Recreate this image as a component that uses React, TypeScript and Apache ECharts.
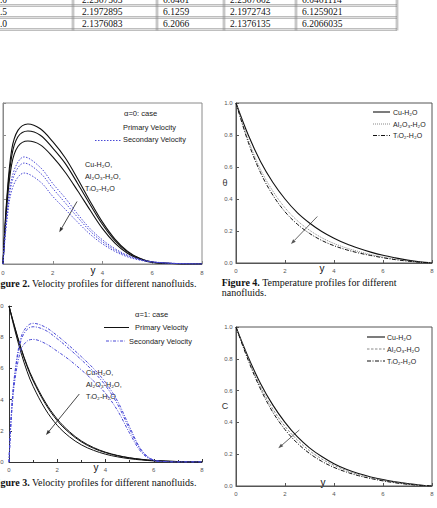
import React, { useEffect, useRef } from "react";
import * as echarts from "echarts";

// ---- Table rows (parameter, values) ----
const tableParam = ["1.0", "1.5", "2.0"];
const tableColA = ["2.2367503", "2.1972895", "2.1376083"];
const tableColB = ["6.0461", "6.1259", "6.2066"];
const tableColC = ["2.2367602", "2.1972743", "2.1376135"];
const tableColD = ["6.0461114", "6.1259021", "6.2066035"];

// ---- Figure 2: alpha = 0 ----
const f2PrimX = [0, 0.15, 0.35, 0.6, 1, 1.5, 2, 2.5, 3, 3.5, 4, 4.5, 5, 5.5, 6, 7, 8];
const f2PrimCu = [0, 0.4, 0.71, 0.83, 0.87, 0.84, 0.76, 0.66, 0.53, 0.39, 0.26, 0.155, 0.08, 0.035, 0.012, 0.002, 0];
const f2PrimAl = [0, 0.38, 0.67, 0.79, 0.826, 0.8, 0.72, 0.625, 0.5, 0.37, 0.245, 0.145, 0.075, 0.032, 0.011, 0.002, 0];
const f2PrimTi = [0, 0.35, 0.62, 0.73, 0.764, 0.74, 0.665, 0.57, 0.455, 0.335, 0.22, 0.13, 0.067, 0.03, 0.01, 0.002, 0];
const f2SecX = [0, 0.15, 0.4, 0.85, 1.5, 2, 2.5, 3, 3.5, 4, 4.5, 5, 5.5, 6, 7, 8];
const f2SecCu = [0, 0.3, 0.56, 0.665, 0.6, 0.5, 0.41, 0.31, 0.22, 0.15, 0.095, 0.055, 0.03, 0.014, 0.003, 0];
const f2SecAl = [0, 0.28, 0.53, 0.627, 0.565, 0.47, 0.38, 0.29, 0.205, 0.138, 0.087, 0.05, 0.027, 0.013, 0.003, 0];
const f2SecTi = [0, 0.26, 0.48, 0.565, 0.51, 0.42, 0.34, 0.26, 0.185, 0.125, 0.078, 0.045, 0.024, 0.012, 0.003, 0];

// ---- Figure 3: alpha = 1 ----
const f3PrimX = [0, 0.25, 0.5, 0.75, 1, 1.5, 2, 2.5, 3, 3.5, 4, 4.5, 5, 5.5, 6, 7, 8];
const f3PrimCu = [1, 0.86, 0.73, 0.62, 0.53, 0.385, 0.275, 0.195, 0.135, 0.093, 0.063, 0.042, 0.027, 0.017, 0.01, 0.003, 0];
const f3PrimAl = [1, 0.855, 0.725, 0.612, 0.52, 0.375, 0.265, 0.187, 0.129, 0.088, 0.06, 0.04, 0.026, 0.016, 0.009, 0.003, 0];
const f3PrimTi = [1, 0.84, 0.7, 0.58, 0.485, 0.34, 0.235, 0.162, 0.11, 0.075, 0.05, 0.033, 0.021, 0.013, 0.007, 0.002, 0];
const f3SecX = [0, 0.1, 0.25, 0.5, 0.75, 1, 1.5, 2, 2.5, 3, 3.5, 4, 4.5, 5, 5.5, 6, 6.5, 7, 8];
const f3SecCu = [0, 0.32, 0.58, 0.8, 0.87, 0.889, 0.865, 0.81, 0.745, 0.675, 0.6, 0.51, 0.39, 0.225, 0.075, 0.012, 0.003, 0, 0];
const f3SecAl = [0, 0.31, 0.57, 0.78, 0.85, 0.867, 0.845, 0.79, 0.725, 0.655, 0.58, 0.49, 0.37, 0.21, 0.07, 0.011, 0.003, 0, 0];
const f3SecTi = [0, 0.29, 0.53, 0.72, 0.775, 0.786, 0.76, 0.71, 0.655, 0.59, 0.52, 0.44, 0.33, 0.185, 0.06, 0.009, 0.002, 0, 0];

// ---- Figure 4: temperature, Figure 5: concentration ----
const profX = [0, 0.5, 1, 1.5, 2, 2.5, 3, 3.5, 4, 4.5, 5, 5.5, 6, 6.5, 7, 7.5, 8];
const thetaCu = [1, 0.8, 0.635, 0.505, 0.4, 0.315, 0.25, 0.197, 0.155, 0.12, 0.092, 0.068, 0.048, 0.032, 0.018, 0.007, 0];
const thetaAl = [1, 0.77, 0.585, 0.45, 0.345, 0.265, 0.205, 0.158, 0.122, 0.094, 0.072, 0.053, 0.037, 0.024, 0.013, 0.005, 0];
const thetaTi = [1, 0.755, 0.565, 0.425, 0.32, 0.243, 0.185, 0.141, 0.108, 0.083, 0.063, 0.047, 0.033, 0.021, 0.012, 0.005, 0];
const concCu = [1, 0.81, 0.645, 0.51, 0.4, 0.31, 0.24, 0.185, 0.14, 0.105, 0.078, 0.057, 0.04, 0.026, 0.015, 0.006, 0];
const concAl = [1, 0.8, 0.625, 0.485, 0.375, 0.29, 0.222, 0.17, 0.13, 0.098, 0.072, 0.052, 0.036, 0.023, 0.013, 0.005, 0];
const concTi = [1, 0.79, 0.61, 0.465, 0.355, 0.27, 0.205, 0.155, 0.117, 0.088, 0.065, 0.047, 0.032, 0.02, 0.011, 0.004, 0];

const xTicks = [0, 2, 4, 6, 8];
const fluidNames = ["Cu-H₂O", "Al₂O₃-H₂O", "TᵢO₂-H₂O"];

const SANS = "Liberation Sans, Arial, sans-serif";
const SERIF = "Liberation Serif, Times New Roman, serif";
const BLUE = "#4a4ad6";

const zip = (xs: number[], ys: number[]) => xs.map((x, i) => [x, ys[i]]);

function curve(gi: number, name: string, xs: number[], ys: number[], color: string, type: any, width = 1) {
  return {
    type: "line",
    name,
    xAxisIndex: gi,
    yAxisIndex: gi,
    data: zip(xs, ys),
    smooth: 0.35,
    symbol: "none",
    showSymbol: false,
    silent: true,
    lineStyle: { color, width, type },
  };
}

function xAxis(gi: number, color: string, margin: number, minor: boolean) {
  return {
    type: "value",
    gridIndex: gi,
    min: 0,
    max: 8,
    interval: 2,
    axisLine: { show: true, onZero: false, lineStyle: { color, width: 1 } },
    axisTick: { show: true, inside: true, length: 3, lineStyle: { color } },
    minorTick: { show: minor, splitNumber: 2, length: 2, lineStyle: { color } },
    axisLabel: {
      fontSize: 6,
      color: "#555",
      margin,
      fontFamily: SANS,
      formatter: (v: number) => (xTicks.includes(v) ? String(v) : ""),
    },
    splitLine: { show: false },
  };
}

function yAxis(gi: number, color: string, showLabel: boolean, margin: number) {
  return {
    type: "value",
    gridIndex: gi,
    min: 0,
    max: 1,
    interval: 0.2,
    axisLine: { show: true, onZero: false, lineStyle: { color, width: 1 } },
    axisTick: { show: true, inside: true, length: 3, lineStyle: { color } },
    axisLabel: {
      show: showLabel,
      fontSize: 6,
      color: "#555",
      margin,
      fontFamily: SANS,
      formatter: (v: number) => v.toFixed(1),
    },
    splitLine: { show: false },
  };
}

function txt(x: number, y: number, text: string, size: number, opts: any = {}) {
  return {
    type: "text",
    x,
    y,
    silent: true,
    style: {
      text,
      fontSize: size,
      fontFamily: opts.family || SANS,
      fontWeight: opts.weight || "normal",
      fill: opts.fill || "#222",
      align: opts.align || "left",
      verticalAlign: "middle",
      textAlign: opts.align || "left",
      textVerticalAlign: "middle",
      rich: opts.rich,
    },
  };
}

function seg(x1: number, y1: number, x2: number, y2: number, stroke: string, width = 1, dash?: number[]) {
  return {
    type: "line",
    silent: true,
    shape: { x1, y1, x2, y2 },
    style: { stroke, lineWidth: width, lineDash: dash },
  };
}

function arrow(x1: number, y1: number, x2: number, y2: number, color: string) {
  const dx = x2 - x1;
  const dy = y2 - y1;
  const len = Math.hypot(dx, dy);
  const ux = dx / len;
  const uy = dy / len;
  const L = 5;
  const W = 1.8;
  const bx = x2 - ux * L;
  const by = y2 - uy * L;
  return [
    seg(x1, y1, bx, by, color, 0.9),
    {
      type: "polygon",
      silent: true,
      shape: {
        points: [
          [x2, y2],
          [bx - uy * W, by + ux * W],
          [bx + uy * W, by - ux * W],
        ],
      },
      style: { fill: color },
    },
  ];
}

function tableGraphics() {
  const g: any[] = [];
  const cols = [73, 157, 224, 296, 397];
  const rows = [5.5, 17.5, 29.5];
  const lineColor = "#8c8c8c";
  rows.forEach((y) => {
    g.push(seg(0, y - 0.8, 397, y - 0.8, lineColor, 0.7));
    g.push(seg(0, y + 0.8, 397, y + 0.8, lineColor, 0.7));
  });
  cols.forEach((x) => {
    g.push(seg(x - 0.8, 0, x - 0.8, 30.5, lineColor, 0.7));
    g.push(seg(x + 0.8, 0, x + 0.8, 30.5, lineColor, 0.7));
  });
  const rowY = [0.2, 12.2, 24.2];
  const colX = [-4.8, 82, 163, 230, 302];
  const colsData = [tableParam, tableColA, tableColB, tableColC, tableColD];
  rowY.forEach((y, r) => {
    colsData.forEach((col, c) => {
      g.push(txt(colX[c], y, col[r], 9.5, { family: SERIF, fill: "#111" }));
    });
  });
  return g;
}

function caption(x: number, y: number, label: string, rest: string) {
  return txt(x, y, `{b|${label}}${rest}`, 10, {
    family: SERIF,
    fill: "#111",
    rich: { b: { fontWeight: "bold", fontSize: 10, fontFamily: SERIF, fill: "#111" } },
  });
}

function fluidLabels(x: number, ys: number[], comma: boolean[]) {
  return fluidNames.map((n, i) => txt(x, ys[i], n + (comma[i] ? "," : ""), 7.2, { fill: "#222" }));
}

function buildOption() {
  const graphic: any[] = [
    ...tableGraphics(),

    // Figure 2 annotations
    txt(124, 113, "α=0: case", 7.6),
    txt(123, 127, "Primary Velocity", 7.4),
    seg(95, 140.5, 122, 140.5, BLUE, 1, [1.5, 1.5]),
    txt(123, 139.5, "Secondary Velocity", 7.4),
    ...fluidLabels(85, [164, 176, 188], [true, true, false]),
    ...arrow(77, 201.5, 59.3, 232.3, "#333"),
    txt(93, 270, "y", 10, { fill: "#111", align: "center" }),
    caption(-8.5, 283, "Figure 2.", " Velocity profiles for different nanofluids."),

    // Figure 3 annotations
    txt(135, 314, "α=1: case", 7.6),
    seg(104, 327.5, 129, 327.5, "#111", 1),
    txt(135, 327, "Primary Velocity", 7.4),
    seg(106, 341, 125, 341, BLUE, 1, [3, 1.5, 1, 1.5]),
    txt(129, 341, "Secondary Velocity", 7.4),
    ...fluidLabels(86, [372, 384, 396], [true, true, false]),
    ...arrow(79.3, 394, 46, 435, "#333"),
    txt(96, 467, "y", 10, { fill: "#111", align: "center" }),
    caption(-8.5, 482, "Figure 3.", " Velocity profiles for different nanofluids."),

    // Figure 4 annotations
    seg(373, 112, 390, 112, "#111", 1.1),
    txt(393, 112, fluidNames[0], 7),
    seg(373, 124, 390, 124, "#888", 1, [1, 1]),
    txt(393, 124, fluidNames[1], 7),
    seg(373, 135.5, 390, 135.5, "#111", 1, [4, 1.5, 1, 1.5]),
    txt(393, 135.5, fluidNames[2], 7),
    ...arrow(317.3, 216.5, 291, 244, "#555"),
    txt(225, 183, "θ", 9, { fill: "#333", align: "center" }),
    txt(322, 268, "y", 10, { fill: "#111", align: "center" }),
    caption(221.7, 282.5, "Figure 4.", " Temperature profiles for different"),
    txt(221.7, 292.5, "nanofluids.", 10, { family: SERIF, fill: "#111" }),

    // Figure 5 annotations
    seg(367, 337, 385, 337, "#111", 1.1),
    txt(387, 337, fluidNames[0], 7),
    seg(367, 349, 385, 349, "#888", 1, [2.5, 1.5]),
    txt(387, 349, fluidNames[1], 7),
    seg(367, 361, 385, 361, "#111", 1, [4, 1.5, 1, 1.5]),
    txt(387, 361, fluidNames[2], 7),
    ...arrow(299.3, 430, 278.3, 448.3, "#555"),
    txt(225, 406, "C", 9, { fill: "#333", align: "center" }),
    txt(323, 482, "y", 10, { fill: "#111", align: "center" }),
  ];

  const frameGray = "#8a8a8a";
  const frameDark = "#555";
  const gridBase = { outerBoundsMode: "none", containLabel: false };

  return {
    animation: false,
    backgroundColor: "#ffffff",
    grid: [
      { ...gridBase, left: 3, top: 103, width: 199, height: 161, show: true, borderColor: frameGray, borderWidth: 1, backgroundColor: "transparent" },
      { ...gridBase, left: 9, top: 306, width: 193, height: 156 },
      { ...gridBase, left: 236, top: 103, width: 196, height: 160, show: true, borderColor: frameDark, borderWidth: 1, backgroundColor: "transparent" },
      { ...gridBase, left: 236, top: 327, width: 196, height: 159, show: true, borderColor: frameDark, borderWidth: 1, backgroundColor: "transparent" },
    ],
    xAxis: [
      xAxis(0, frameGray, 6, false),
      xAxis(1, "#333", 5, true),
      xAxis(2, frameDark, 5, false),
      xAxis(3, frameDark, 5, false),
    ],
    yAxis: [
      yAxis(0, frameGray, false, 4),
      yAxis(1, "#333", true, 5.5),
      yAxis(2, frameDark, true, 3.5),
      yAxis(3, frameDark, true, 3.5),
    ],
    series: [
      curve(0, "Primary Cu", f2PrimX, f2PrimCu, "#111", "solid", 1.1),
      curve(0, "Primary Al", f2PrimX, f2PrimAl, "#111", "solid", 1.1),
      curve(0, "Primary Ti", f2PrimX, f2PrimTi, "#111", "solid", 1.1),
      curve(0, "Secondary Cu", f2SecX, f2SecCu, BLUE, [1.5, 1.5], 1),
      curve(0, "Secondary Al", f2SecX, f2SecAl, BLUE, [1.5, 1.5], 1),
      curve(0, "Secondary Ti", f2SecX, f2SecTi, BLUE, [1.5, 1.5], 1),

      curve(1, "Primary Cu", f3PrimX, f3PrimCu, "#111", "solid", 1),
      curve(1, "Primary Al", f3PrimX, f3PrimAl, "#111", "solid", 1),
      curve(1, "Primary Ti", f3PrimX, f3PrimTi, "#111", "solid", 1),
      curve(1, "Secondary Cu", f3SecX, f3SecCu, BLUE, [3, 1.5, 1, 1.5], 1),
      curve(1, "Secondary Al", f3SecX, f3SecAl, BLUE, [3, 1.5, 1, 1.5], 1),
      curve(1, "Secondary Ti", f3SecX, f3SecTi, BLUE, [3, 1.5, 1, 1.5], 1),

      curve(2, fluidNames[0], profX, thetaCu, "#111", "solid", 1.1),
      curve(2, fluidNames[1], profX, thetaAl, "#888", [1, 1], 1),
      curve(2, fluidNames[2], profX, thetaTi, "#111", [4, 1.5, 1, 1.5], 1),

      curve(3, fluidNames[0], profX, concCu, "#111", "solid", 1.1),
      curve(3, fluidNames[1], profX, concAl, "#888", [2.5, 1.5], 1),
      curve(3, fluidNames[2], profX, concTi, "#111", [4, 1.5, 1, 1.5], 1),
    ],
    graphic,
  };
}

export default function App() {
  const ref = useRef<HTMLDivElement>(null);

  useEffect(() => {
    if (!ref.current) return;
    const chart = echarts.init(ref.current, undefined, { renderer: "svg" });
    chart.setOption(buildOption() as any);
    return () => chart.dispose();
  }, []);

  return (
    <div
      ref={ref}
      style={{ position: "fixed", left: 0, top: 0, width: 437, height: 508, background: "#fff" }}
    />
  );
}
